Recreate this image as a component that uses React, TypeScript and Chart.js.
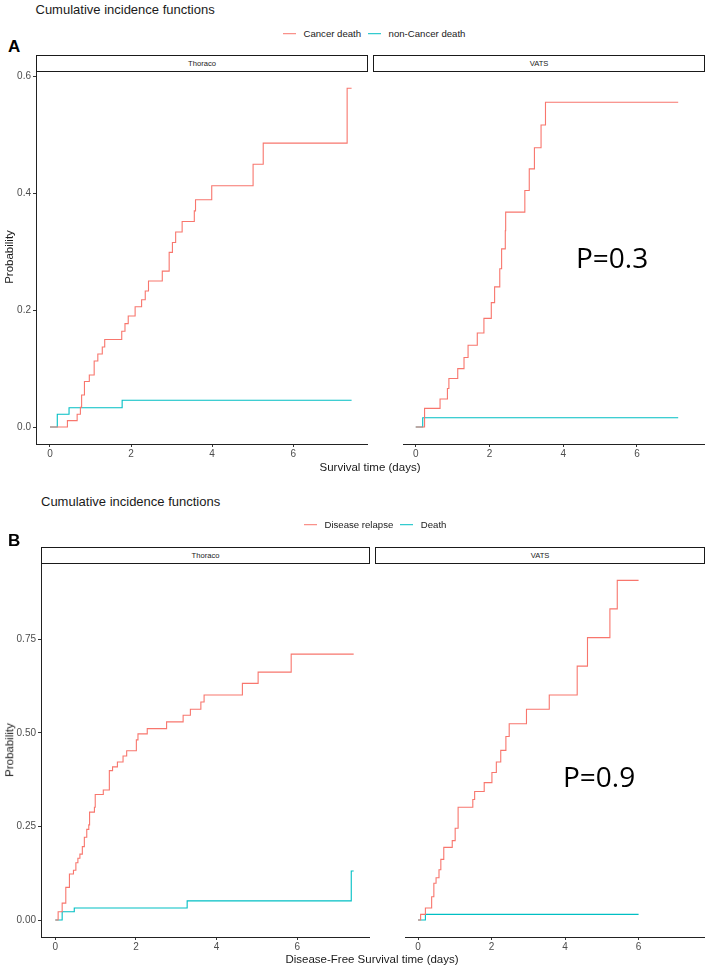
import React, { useEffect, useRef } from "react";
import { Chart, registerables } from "chart.js";
Chart.register(...registerables);

const RED = "#F8766D";
const TEAL = "#00BFC4";
const FONT = "'Liberation Sans', Arial, sans-serif";

// ---------- Panel A: Thoraco ----------
const aThoracoCancerTime = [0, 0.43, 0.67, 0.75, 0.78, 0.85, 0.97, 1.09, 1.18, 1.29, 1.35, 1.77, 1.85, 1.93, 2.10, 2.26, 2.35, 2.43, 2.77, 2.94, 3.02, 3.10, 3.26, 3.56, 3.59, 3.99, 5.01, 5.26, 7.33, 7.44];
const aThoracoCancerProb = [0, 0.011, 0.022, 0.034, 0.055, 0.078, 0.089, 0.113, 0.125, 0.137, 0.150, 0.164, 0.177, 0.190, 0.206, 0.218, 0.233, 0.250, 0.267, 0.299, 0.316, 0.334, 0.352, 0.370, 0.389, 0.413, 0.450, 0.486, 0.580, 0.580];
const aThoracoOtherTime = [0, 0.18, 0.47, 1.78, 7.44];
const aThoracoOtherProb = [0, 0.022, 0.033, 0.046, 0.046];

// ---------- Panel A: VATS ----------
const aVatsCancerTime = [0, 0.24, 0.66, 0.86, 0.90, 1.14, 1.31, 1.42, 1.67, 1.85, 2.05, 2.14, 2.28, 2.33, 2.43, 2.44, 2.96, 3.08, 3.22, 3.40, 3.52, 7.12];
const aVatsCancerProb = [0, 0.032, 0.048, 0.066, 0.083, 0.100, 0.119, 0.140, 0.161, 0.186, 0.213, 0.240, 0.271, 0.305, 0.336, 0.368, 0.405, 0.442, 0.478, 0.517, 0.556, 0.556];
const aVatsOtherTime = [0, 0.19, 7.12];
const aVatsOtherProb = [0, 0.016, 0.016];

// ---------- Panel B: Thoraco ----------
const bThoracoRelapseTime = [0, 0.07, 0.17, 0.26, 0.35, 0.45, 0.51, 0.56, 0.61, 0.67, 0.72, 0.78, 0.83, 0.85, 0.97, 0.99, 1.19, 1.34, 1.42, 1.54, 1.68, 1.77, 2.01, 2.05, 2.28, 2.76, 3.17, 3.35, 3.61, 3.69, 4.64, 5.03, 5.85, 7.40];
const bThoracoRelapseProb = [0, 0.022, 0.045, 0.087, 0.123, 0.133, 0.153, 0.165, 0.176, 0.196, 0.221, 0.242, 0.254, 0.288, 0.301, 0.335, 0.347, 0.399, 0.409, 0.422, 0.438, 0.452, 0.481, 0.497, 0.511, 0.529, 0.547, 0.563, 0.582, 0.601, 0.632, 0.662, 0.710, 0.710];
const bThoracoDeathTime = [0, 0.17, 0.47, 3.27, 7.34, 7.40];
const bThoracoDeathProb = [0, 0.022, 0.032, 0.051, 0.131, 0.131];

// ---------- Panel B: VATS ----------
const bVatsRelapseTime = [0, 0.07, 0.20, 0.37, 0.43, 0.49, 0.57, 0.62, 0.70, 0.93, 1.01, 1.09, 1.49, 1.54, 1.80, 2.01, 2.13, 2.25, 2.39, 2.48, 2.95, 3.57, 4.33, 4.61, 5.22, 5.42, 6.00];
const bVatsRelapseProb = [0, 0.015, 0.032, 0.062, 0.098, 0.113, 0.134, 0.162, 0.194, 0.212, 0.245, 0.301, 0.322, 0.343, 0.367, 0.394, 0.422, 0.453, 0.490, 0.524, 0.563, 0.601, 0.678, 0.754, 0.831, 0.907, 0.907];
const bVatsDeathTime = [0, 0.20, 6.00];
const bVatsDeathProb = [0, 0.015, 0.015];

// ---------- Ticks / labels ----------
const xTickValues = [0, 2, 4, 6];
const aYTickValues = [0, 0.2, 0.4, 0.6];
const aYTickLabels = ["0.0", "0.2", "0.4", "0.6"];
const bYTickValues = [0, 0.25, 0.5, 0.75];
const bYTickLabels = ["0.00", "0.25", "0.50", "0.75"];
const facetNames = ["Thoraco", "VATS"];
const aLegendLabels = ["Cancer death", "non-Cancer death"];
const bLegendLabels = ["Disease relapse", "Death"];

type Rect = { l: number; t: number; r: number; b: number };
type Series = { time: number[]; prob: number[]; color: string };

function Facet(props: {
  rect: Rect;
  xRange: [number, number];
  yRange: [number, number];
  yTicks: number[];
  yLabels: string[];
  showY: boolean;
  series: Series[];
}) {
  const { rect, xRange, yRange, yTicks, yLabels, showY, series } = props;
  const ref = useRef<HTMLCanvasElement>(null);
  const yW = 30;
  const padL = showY ? 34 : 6;
  const padR = 4;
  const padT = 12;
  const padB = 22;
  const W = Math.round(rect.r - rect.l + padL + padR);
  const H = Math.round(rect.b - rect.t + padT + padB);
  useEffect(() => {
    const chart = new Chart(ref.current as HTMLCanvasElement, {
      type: "line",
      data: {
        datasets: series.map((s) => ({
          data: s.time.map((t, i) => ({ x: t, y: s.prob[i] })),
          borderColor: s.color,
          borderWidth: 1.1,
          pointRadius: 0,
          stepped: "before" as const,
          fill: false,
          tension: 0,
        })),
      },
      options: {
        responsive: false,
        animation: false,
        devicePixelRatio: 1,
        layout: { padding: { left: showY ? padL - yW : padL, right: padR, top: padT, bottom: 0 } },
        plugins: { legend: { display: false }, tooltip: { enabled: false }, title: { display: false } },
        scales: {
          x: {
            type: "linear",
            min: xRange[0],
            max: xRange[1],
            afterFit: (s: any) => {
              s.height = padB;
            },
            afterBuildTicks: (s: any) => {
              s.ticks = xTickValues.map((v) => ({ value: v }));
            },
            grid: { drawOnChartArea: false, drawTicks: true, tickLength: 3, tickColor: "#333333" },
            border: { display: true, color: "#222222", width: 1 },
            ticks: {
              padding: 1,
              color: "#4d4d4d",
              font: { family: FONT, size: 10 },
              maxRotation: 0,
              autoSkip: false,
              callback: (v: any) => String(v),
            },
          },
          y: {
            type: "linear",
            display: showY,
            min: yRange[0],
            max: yRange[1],
            afterFit: (s: any) => {
              s.width = yW;
            },
            afterBuildTicks: (s: any) => {
              s.ticks = yTicks.map((v) => ({ value: v }));
            },
            grid: { drawOnChartArea: false, drawTicks: true, tickLength: 3, tickColor: "#333333" },
            border: { display: true, color: "#222222", width: 1 },
            ticks: {
              padding: 2,
              color: "#4d4d4d",
              font: { family: FONT, size: 10 },
              autoSkip: false,
              callback: (v: any) => {
                const i = yTicks.findIndex((t) => Math.abs(t - Number(v)) < 1e-9);
                return i >= 0 ? yLabels[i] : "";
              },
            },
          },
        },
      } as any,
    });
    return () => chart.destroy();
  }, []);
  return (
    <canvas
      ref={ref}
      width={W}
      height={H}
      style={{ position: "absolute", left: rect.l - padL, top: rect.t - padT, width: W, height: H }}
    />
  );
}

function Txt(props: {
  x: number;
  y: number;
  size: number;
  children: React.ReactNode;
  anchor?: "start" | "middle" | "end";
  weight?: number | string;
  color?: string;
  family?: string;
  rotate?: number;
}) {
  const { x, y, size, children, anchor = "start", weight = 400, color = "#000", family = FONT, rotate } = props;
  const tx = anchor === "middle" ? "-50%" : anchor === "end" ? "-100%" : "0";
  return (
    <div
      style={{
        position: "absolute",
        left: x,
        top: y,
        transform: `translate(${tx}, -50%)${rotate ? ` rotate(${rotate}deg)` : ""}`,
        whiteSpace: "nowrap",
        fontSize: size,
        lineHeight: 1,
        fontWeight: weight as any,
        color,
        fontFamily: family,
      }}
    >
      {children}
    </div>
  );
}

function Strip(props: { l: number; r: number; t: number; b: number; label: string }) {
  const { l, r, t, b, label } = props;
  return (
    <div
      style={{
        position: "absolute",
        left: l,
        top: t,
        width: r - l + 1,
        height: b - t + 1,
        boxSizing: "border-box",
        border: "1px solid #1a1a1a",
        background: "#fff",
        display: "flex",
        alignItems: "center",
        justifyContent: "center",
        fontFamily: FONT,
        fontSize: 7.6,
        color: "#1a1a1a",
      }}
    >
      {label}
    </div>
  );
}

function Legend(props: { x: number; y: number; labels: string[] }) {
  const { x, y, labels } = props;
  const colors = [RED, TEAL];
  return (
    <div
      style={{
        position: "absolute",
        left: x,
        top: y,
        transform: "translateY(-50%)",
        display: "flex",
        alignItems: "center",
        fontFamily: FONT,
        fontSize: 9.6,
        color: "#1a1a1a",
        whiteSpace: "nowrap",
        lineHeight: 1,
      }}
    >
      {labels.map((lab, i) => (
        <div key={lab} style={{ display: "flex", alignItems: "center", marginRight: 7 }}>
          <div style={{ width: 13, height: 1, background: colors[i], marginRight: 7.5 }} />
          <span>{lab}</span>
        </div>
      ))}
    </div>
  );
}

export default function App() {
  const aTh: Rect = { l: 36, r: 367, t: 71, b: 444 };
  const aVa: Rect = { l: 373, r: 704, t: 71, b: 444 };
  const bTh: Rect = { l: 41, r: 369, t: 563, b: 937 };
  const bVa: Rect = { l: 375, r: 704, t: 563, b: 937 };
  const aX: [number, number] = [-0.345, 7.82];
  const aY: [number, number] = [-0.029, 0.6095];
  const bX: [number, number] = [-0.355, 7.78];
  const bY: [number, number] = [-0.0454, 0.9534];
  return (
    <div
      style={{
        position: "absolute",
        left: 0,
        top: 0,
        width: 708,
        height: 970,
        background: "#fff",
        overflow: "hidden",
        fontFamily: FONT,
      }}
    >
      {/* Panel A */}
      <Txt x={35.5} y={8.5} size={13} color="#1a1a1a">Cumulative incidence functions</Txt>
      <Legend x={283} y={33.5} labels={aLegendLabels} />
      <Txt x={8} y={46} size={17} weight={700}>A</Txt>
      <Facet rect={aTh} xRange={aX} yRange={aY} yTicks={aYTickValues} yLabels={aYTickLabels} showY={true}
        series={[
          { time: aThoracoCancerTime, prob: aThoracoCancerProb, color: RED },
          { time: aThoracoOtherTime, prob: aThoracoOtherProb, color: TEAL },
        ]} />
      <Facet rect={aVa} xRange={aX} yRange={aY} yTicks={aYTickValues} yLabels={aYTickLabels} showY={false}
        series={[
          { time: aVatsCancerTime, prob: aVatsCancerProb, color: RED },
          { time: aVatsOtherTime, prob: aVatsOtherProb, color: TEAL },
        ]} />
      <Strip l={aTh.l} r={aTh.r} t={55} b={aTh.t} label={facetNames[0]} />
      <Strip l={aVa.l} r={aVa.r} t={55} b={aVa.t} label={facetNames[1]} />
      <Txt x={10} y={257} size={11.5} anchor="middle" rotate={-90} color="#1a1a1a">Probability</Txt>
      <Txt x={370} y={467.5} size={11.5} anchor="middle" color="#1a1a1a">Survival time (days)</Txt>
      <Txt x={576} y={257} size={28} family="'Open Sans', 'Noto Sans', sans-serif">P=0.3</Txt>

      {/* Panel B */}
      <Txt x={41} y={501} size={13} color="#1a1a1a">Cumulative incidence functions</Txt>
      <Legend x={304} y={525} labels={bLegendLabels} />
      <Txt x={8} y={540} size={17} weight={700}>B</Txt>
      <Facet rect={bTh} xRange={bX} yRange={bY} yTicks={bYTickValues} yLabels={bYTickLabels} showY={true}
        series={[
          { time: bThoracoRelapseTime, prob: bThoracoRelapseProb, color: RED },
          { time: bThoracoDeathTime, prob: bThoracoDeathProb, color: TEAL },
        ]} />
      <Facet rect={bVa} xRange={bX} yRange={bY} yTicks={bYTickValues} yLabels={bYTickLabels} showY={false}
        series={[
          { time: bVatsRelapseTime, prob: bVatsRelapseProb, color: RED },
          { time: bVatsDeathTime, prob: bVatsDeathProb, color: TEAL },
        ]} />
      <Strip l={bTh.l} r={bTh.r} t={547} b={bTh.t} label={facetNames[0]} />
      <Strip l={bVa.l} r={bVa.r} t={547} b={bVa.t} label={facetNames[1]} />
      <Txt x={10} y={750} size={11.5} anchor="middle" rotate={-90} color="#1a1a1a">Probability</Txt>
      <Txt x={372} y={960} size={11.5} anchor="middle" color="#1a1a1a">Disease-Free Survival time (days)</Txt>
      <Txt x={563} y={776} size={28} family="'Open Sans', 'Noto Sans', sans-serif">P=0.9</Txt>
    </div>
  );
}
